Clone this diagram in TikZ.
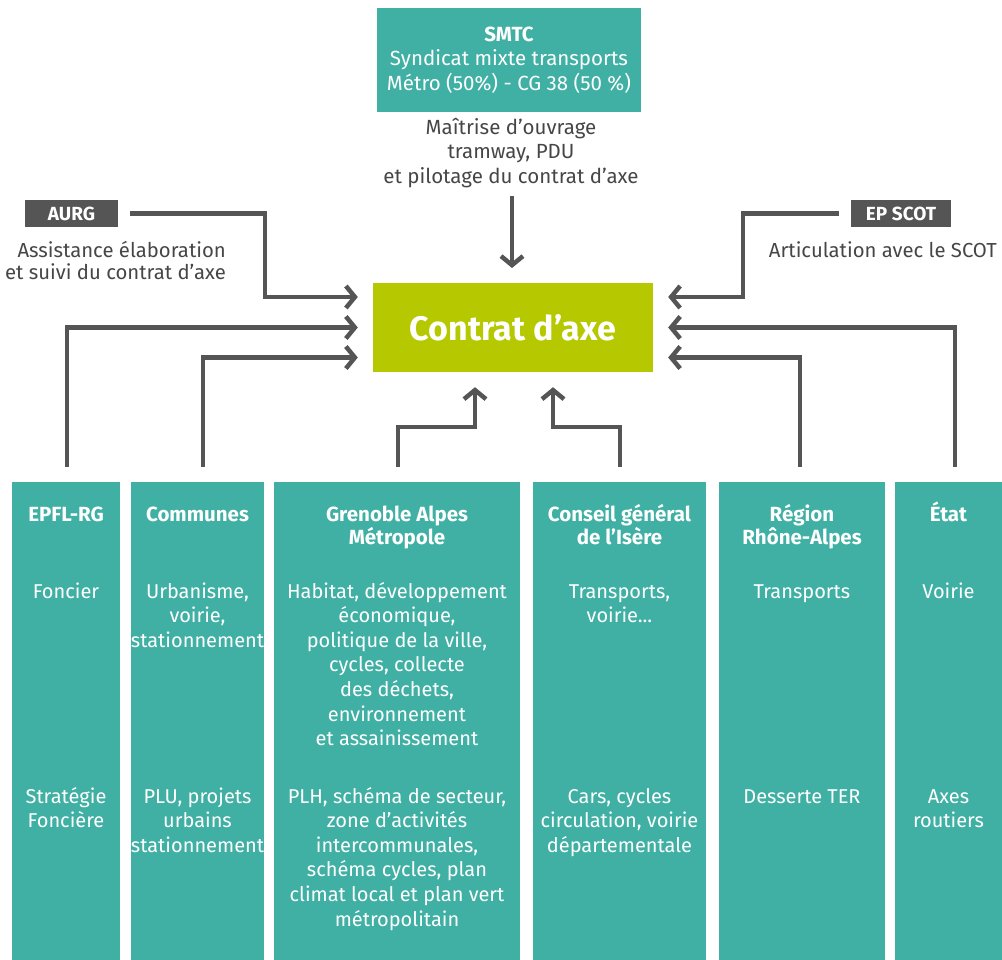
\documentclass[tikz,border=0pt]{standalone}
\usepackage{fontspec}
\setmainfont{Fira Sans}
\usetikzlibrary{arrows.meta}
\definecolor{tealc}{RGB}{64,176,164}
\definecolor{limec}{RGB}{181,200,0}
\definecolor{dgray}{RGB}{85,85,85}
\definecolor{tgray}{RGB}{70,70,70}
\begin{document}
\begin{tikzpicture}[x=1pt,y=-1pt,
  colbox/.style={fill=tealc, draw=none, anchor=north west, inner sep=0, minimum height=478pt},
  wtext/.style={text=white, align=center, anchor=base, inner sep=0, font=\fontsize{20}{24.6}\selectfont},
  whead/.style={wtext, font=\fontsize{20.5}{23}\selectfont\bfseries},
  gtext/.style={text=tgray, inner sep=0, font=\fontsize{20.3}{22.5}\selectfont},
  darkbox/.style={fill=dgray, text=white, inner sep=0, minimum height=27pt, font=\fontsize{19}{22}\selectfont\bfseries},
  conn/.style={draw=dgray, line width=4.5pt, -{Straight Barb[length=9pt,width=22pt]}, shorten >=15pt}
]
\useasboundingbox (0,0) rectangle (1002,960);

% top box
\node[fill=tealc, text=white, minimum width=264pt, minimum height=104pt, inner sep=0, align=center,
      font=\fontsize{20.5}{24.5}\selectfont] (smtc) at (509,60)
  {\textbf{SMTC}\\Syndicat mixte transports\\Métro (50\%) - CG 38 (50 \%)};
\node[gtext, align=center, font=\fontsize{20.5}{24.5}\selectfont] (smtcd) at (511,153)
  {Maîtrise d'ouvrage\\tramway, PDU\\et pilotage du contrat d'axe};

% central box
\node[fill=limec, text=white, minimum width=280pt, minimum height=89pt, inner sep=0,
      font=\fontsize{34}{40}\selectfont\bfseries] (contrat) at (513,327.5) {Contrat d'axe};

% side boxes
\node[darkbox, minimum width=93pt] (aurg) at (71.5,213.5) {AURG};
\node[gtext, align=right, anchor=north east] (aurgd) at (226,241)
  {Assistance élaboration\\et suivi du contrat d'axe};
\node[darkbox, minimum width=100pt] (epscot) at (901,213.5) {EP SCOT};
\node[gtext, anchor=north east] (epscotd) at (997,241) {Articulation avec le SCOT};

% columns
\node[colbox, minimum width=108pt] (c1) at (12,482) {};
\node[colbox, minimum width=133pt] (c2) at (131,482) {};
\node[colbox, minimum width=246pt] (c3) at (274,482) {};
\node[colbox, minimum width=173pt] (c4) at (533,482) {};
\node[colbox, minimum width=166pt] (c5) at (719,482) {};
\node[colbox, minimum width=107pt] (c6) at (895,482) {};

% headers (anchor = baseline of last line)
\node[whead] (h1) at (66,521) {EPFL-RG};
\node[whead] (h2) at (197.5,521) {Communes};
\node[whead] (h3) at (397,544) {Grenoble Alpes\\Métropole};
\node[whead] (h4) at (619.5,544) {Conseil général\\de l'Isère};
\node[whead] (h5) at (802,544) {Région\\Rhône-Alpes};
\node[whead] (h6) at (948.5,521) {État};

% first texts
\node[wtext] (a1) at (66,598) {Foncier};
\node[wtext] (a2) at (197.5,647.2) {Urbanisme,\\voirie,\\stationnement};
\node[wtext] (a3) at (397,745.6) {Habitat, développement\\économique,\\politique de la ville,\\cycles, collecte\\des déchets,\\environnement\\et assainissement};
\node[wtext] (a4) at (619.5,622.6) {Transports,\\voirie...};
\node[wtext] (a5) at (802,598) {Transports};
\node[wtext] (a6) at (948.5,598) {Voirie};

% second texts
\node[wtext] (b1) at (66,827.6) {Stratégie\\Foncière};
\node[wtext] (b2) at (197.5,852.2) {PLU, projets\\urbains\\stationnement};
\node[wtext] (b3) at (397,926) {PLH, schéma de secteur,\\zone d'activités\\intercommunales,\\schéma cycles, plan\\climat local et plan vert\\métropolitain};
\node[wtext] (b4) at (619.5,852.2) {Cars, cycles\\circulation, voirie\\départementale};
\node[wtext] (b5) at (802,803) {Desserte TER};
\node[wtext] (b6) at (948.5,827.6) {Axes\\routiers};

% bend coordinates
\coordinate (k1) at (265,297);
\coordinate (k2) at (743,297);
\coordinate (k3) at (475,427);
\coordinate (k4) at (553,427);

% connectors
\draw[conn] (smtcd.south -| 512,0) ++(0,8) -- (512,283);
\draw[conn] ([xshift=12pt]aurg.east) -| (k1) -- (k1 -| contrat.west);
\draw[conn] ([xshift=-12pt]epscot.west) -| (k2) -- (k2 -| contrat.east);
\draw[conn] ([xshift=1pt,yshift=15pt]c1.north) |- (contrat.west);
\draw[conn] ([xshift=5.5pt,yshift=15pt]c2.north) |- ([yshift=-30pt]contrat.west);
\draw[conn] ([xshift=1pt,yshift=15pt]c3.north) |- (k3) -- (k3 |- contrat.south);
\draw[conn] ([xshift=0.5pt,yshift=15pt]c4.north) |- (k4) -- (k4 |- contrat.south);
\draw[conn] ([xshift=-2pt,yshift=15pt]c5.north) |- ([yshift=-30pt]contrat.east);
\draw[conn] ([xshift=6.5pt,yshift=15pt]c6.north) |- (contrat.east);
\end{tikzpicture}
\end{document}
